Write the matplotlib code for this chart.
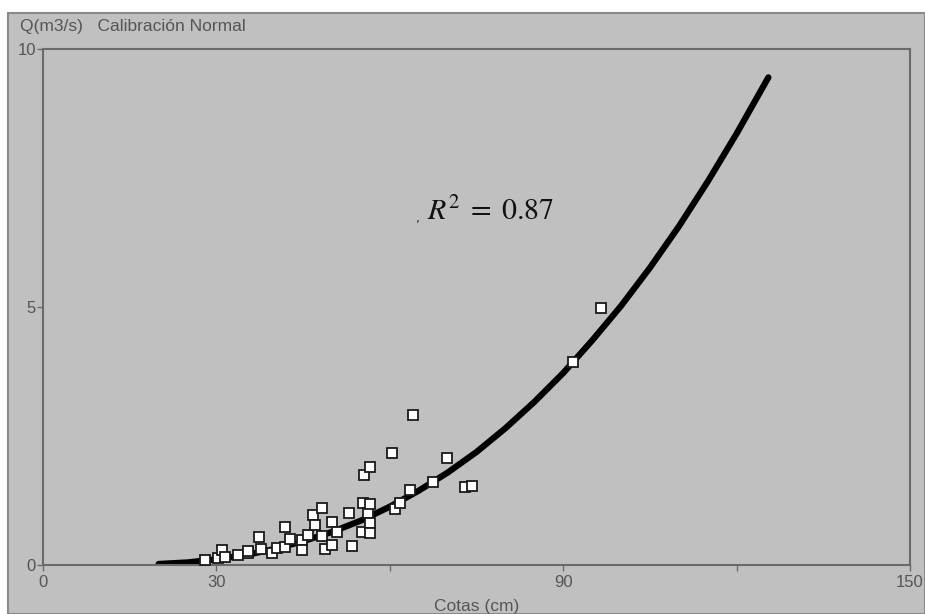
import numpy as np
import matplotlib.pyplot as plt
from matplotlib.patches import Rectangle

# ____________________ datos ____________________

# puntos medidos (cota en cm, caudal en m3/s)
cotas = [28.0, 30.3, 31.0, 31.5, 33.7, 35.5, 35.5, 37.4, 37.7, 39.6,
         40.5, 41.9, 41.9, 42.7, 44.8, 44.8, 45.8, 46.7, 47.1, 48.3,
         48.3, 48.8, 50.0, 50.0, 50.9, 52.9, 53.5, 55.2, 55.4, 55.5,
         56.6, 56.2, 56.6, 56.6, 56.6, 60.4, 60.9, 61.8, 63.5, 64.0,
         67.5, 69.9, 73.0, 74.2, 91.7, 96.5]
caudal = [0.10, 0.14, 0.29, 0.16, 0.19, 0.23, 0.27, 0.54, 0.31, 0.23,
          0.33, 0.74, 0.35, 0.50, 0.48, 0.29, 0.58, 0.97, 0.78, 1.10,
          0.56, 0.31, 0.83, 0.39, 0.64, 1.01, 0.37, 0.64, 1.20, 1.75,
          1.90, 1.01, 0.81, 0.62, 1.18, 2.17, 1.09, 1.20, 1.45, 2.91,
          1.60, 2.07, 1.51, 1.54, 3.93, 4.98]

# curva de calibracion
curva_h = [20, 25, 30, 35, 40, 45, 50, 55, 60, 65, 70, 75, 80, 85,
           90, 95, 100, 105, 110, 115, 120, 125.5]
curva_q = [0.02, 0.05, 0.11, 0.19, 0.31, 0.46, 0.64, 0.86, 1.13, 1.44,
           1.79, 2.19, 2.65, 3.16, 3.72, 4.35, 5.02, 5.76, 6.56, 7.43,
           8.36, 9.45]

x_ticks = [0, 30, 60, 90, 120, 150]
x_labels = ["0", "30", "", "90", "", "150"]
y_ticks = [0, 5, 10]
y_labels = ["0", "5", "10"]

gris = "#c0c0c0"
texto = "#555555"

# ____________________ figura ____________________

fig = plt.figure(figsize=(9.25, 6.14), dpi=100, facecolor="white")

# panel gris de fondo (detras de los ejes)
fondo = Rectangle((8 / 925, 0), 1 - 8 / 925, (614 - 13) / 614,
                  transform=fig.transFigure, facecolor=gris,
                  edgecolor="#8a8a8a", linewidth=1.5, zorder=-10)
fig.patches.append(fondo)

ax = fig.add_axes([43 / 925, (614 - 565) / 614, (910 - 43) / 925, (565 - 49) / 614])
ax.set_zorder(1)
ax.set_facecolor(gris)

ax.plot(curva_h, curva_q, color="black", linewidth=4.5,
        solid_capstyle="round", zorder=2)
ax.plot(cotas, caudal, linestyle="none", marker="s", markersize=7.8,
        markerfacecolor="white", markeredgecolor="#1a1a1a",
        markeredgewidth=1.3, zorder=3)

ax.set_xlim(0, 150)
ax.set_ylim(0, 10)

ax.set_xticks(x_ticks)
ax.set_xticklabels(x_labels)
ax.set_yticks(y_ticks)
ax.set_yticklabels(y_labels)
ax.tick_params(axis="both", direction="out", length=4, width=1,
               color="#6a6a6a", labelcolor=texto, labelsize=12)
ax.tick_params(axis="x", pad=3)
ax.tick_params(axis="y", pad=1)
for lab in ax.get_xticklabels() + ax.get_yticklabels():
    lab.set_family("Liberation Sans")

for s in ax.spines.values():
    s.set_color("#6a6a6a")
    s.set_linewidth(1.5)

# titulo del eje y, arriba a la izquierda
fig.text(20 / 925, 1 - 27 / 614, "Q(m3/s)   Calibración Normal",
         fontsize=12.5, color=texto, family="Liberation Sans",
         ha="left", va="center")

# titulo del eje x (cortado abajo)
fig.text(477 / 925, 1 - 607 / 614, "Cotas (cm)", fontsize=12.5, color=texto,
         family="Liberation Sans", ha="center", va="center")

# coeficiente de determinacion
plt.rcParams["mathtext.fontset"] = "stix"
ax.text(66.5, 6.85, r"$R^2\;=\;0.87$", fontsize=21.5, color="#111111",
        ha="left", va="center")
ax.text(64.8, 6.72, ",", fontsize=9, color="#333333", ha="center", va="center")

fig.savefig("out.png", dpi=100, facecolor=fig.get_facecolor())
